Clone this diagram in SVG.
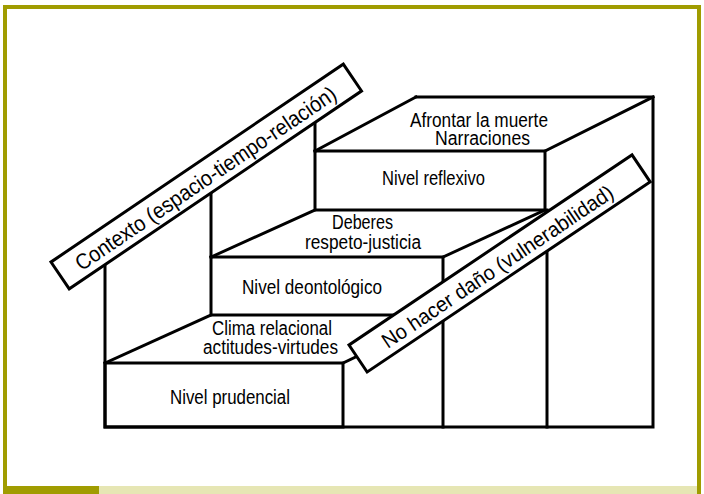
<svg xmlns="http://www.w3.org/2000/svg" width="704" height="494" viewBox="0 0 704 494">
<style>
.ln{fill:none;stroke:#000;stroke-width:3;stroke-linejoin:miter;stroke-linecap:square}
.box{fill:#fff;stroke:#000;stroke-width:3}
.t{font-family:"Liberation Sans",Arial,sans-serif;font-size:19.5px;fill:#000}
.r{font-family:"Liberation Sans",Arial,sans-serif;fill:#000}
</style>
<rect width="704" height="494" fill="#fff"/>
<g id="frame">
<path d="M5,494 V7 H699 V494" fill="none" stroke="#a09c00" stroke-width="4"/>
<rect x="3" y="486" width="96" height="8" fill="#a09c00"/>
<rect x="99" y="486" width="598" height="8" fill="#e6e6b4"/>
</g>
<g id="connectors">
<path class="ln" d="M416,97 H653 V427 H105 V250"/>
<path class="ln" d="M315,151 L416,97"/>
<path class="ln" d="M545,151 L653,97"/>
<path class="ln" d="M211,257 L315,210"/>
<path class="ln" d="M443,257 L545,210"/>
<path class="ln" d="M105,363 L211,315"/>
<path class="ln" d="M343,363 L443,315"/>
<path class="ln" d="M211,180 V257"/>
<path class="ln" d="M315,110 V151"/>
<path class="ln" d="M443,315 V427"/>
<path class="ln" d="M547,210 V427"/>
</g>
<g id="nivel-reflexivo">
<rect class="ln" x="315" y="151" width="230" height="59"/>
<text class="t" x="382" y="185" textLength="103" lengthAdjust="spacingAndGlyphs">Nivel reflexivo</text>
</g>
<g id="afrontar">
<text class="t" x="410" y="126.5" textLength="138" lengthAdjust="spacingAndGlyphs">Afrontar la muerte</text>
<text class="t" x="435" y="145" textLength="95" lengthAdjust="spacingAndGlyphs">Narraciones</text>
</g>
<g id="nivel-deontologico">
<rect class="ln" x="211" y="257" width="232" height="58"/>
<text class="t" x="242" y="293.5" textLength="140" lengthAdjust="spacingAndGlyphs">Nivel deontológico</text>
</g>
<g id="deberes">
<text class="t" x="332" y="228.5" textLength="61" lengthAdjust="spacingAndGlyphs">Deberes</text>
<text class="t" x="305" y="248.5" textLength="116" lengthAdjust="spacingAndGlyphs">respeto-justicia</text>
</g>
<g id="nivel-prudencial">
<rect class="ln" x="105" y="363" width="238" height="64"/>
<text class="t" x="170" y="404" textLength="120" lengthAdjust="spacingAndGlyphs">Nivel prudencial</text>
</g>
<g id="clima">
<text class="t" x="212" y="335" textLength="120" lengthAdjust="spacingAndGlyphs">Clima relacional</text>
<text class="t" x="203" y="353.5" textLength="135" lengthAdjust="spacingAndGlyphs">actitudes-virtudes</text>
</g>
<g id="contexto" transform="translate(51,262) rotate(-34.1)">
<rect class="box" x="0" y="0" width="353" height="32.5"/>
<text class="r" x="20" y="25" font-size="22" textLength="310" lengthAdjust="spacingAndGlyphs">Contexto (espacio-tiempo-relación)</text>
</g>
<g id="no-hacer-dano" transform="translate(349,345) rotate(-33.9)">
<rect class="box" x="0" y="0" width="341" height="32.5"/>
<text class="r" x="30" y="25" font-size="21" textLength="274" lengthAdjust="spacingAndGlyphs">No hacer daño (vulnerabilidad)</text>
</g>
</svg>
